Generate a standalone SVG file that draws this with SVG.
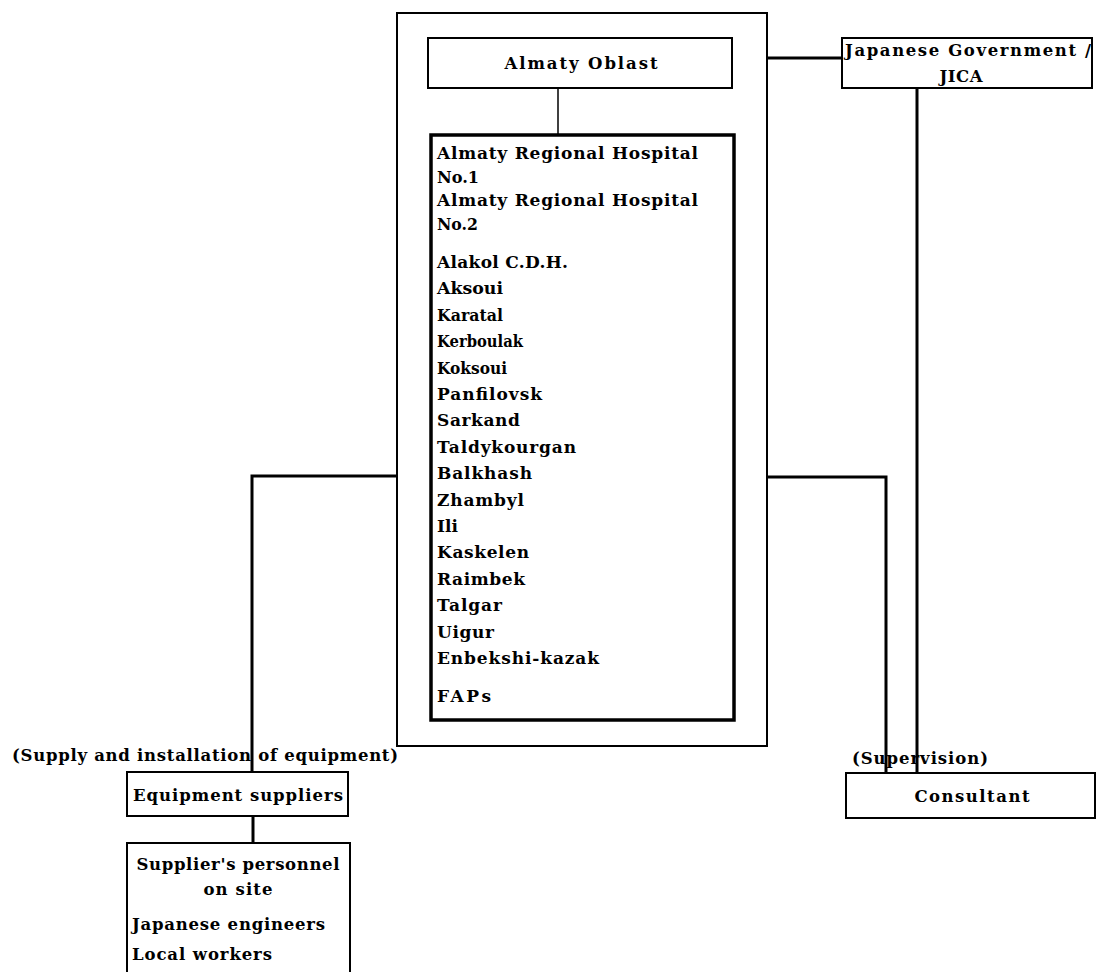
<svg xmlns="http://www.w3.org/2000/svg" width="1098" height="972" viewBox="0 0 1098 972">
<style>
  .box { fill: #ffffff; stroke: #000000; stroke-width: 2; }
  .thick { fill: #ffffff; stroke: #000000; stroke-width: 3.5; }
  .t { font-family: "DejaVu Serif", "Liberation Serif", serif; font-weight: bold; font-size: 16.5px; fill: #000000; }
  .l { font-family: "DejaVu Serif", "Liberation Serif", serif; font-weight: bold; font-size: 17px; fill: #000000; }
  .c { text-anchor: middle; }
  .conn { fill: none; stroke: #000000; stroke-width: 3; }
  .thin { fill: none; stroke: #000000; stroke-width: 1.5; }
</style>
<rect width="1098" height="972" fill="#ffffff"/>

<g id="almaty-oblast-group">
  <rect class="box" x="397" y="13" width="370" height="733"/>
</g>

<g id="almaty-oblast">
  <rect class="box" x="428" y="38" width="304" height="50"/>
  <text class="t c" x="581" y="69" textLength="153" lengthAdjust="spacing">Almaty Oblast</text>
</g>

<g id="hospitals">
  <rect class="thick" x="431" y="135" width="303" height="585"/>
  <text class="l" x="437" y="159" textLength="261" lengthAdjust="spacing">Almaty Regional Hospital</text>
  <text class="l" x="437" y="183" textLength="42" lengthAdjust="spacingAndGlyphs">No.1</text>
  <text class="l" x="437" y="206" textLength="261" lengthAdjust="spacing">Almaty Regional Hospital</text>
  <text class="l" x="437" y="230" textLength="41" lengthAdjust="spacingAndGlyphs">No.2</text>
  <text class="l" x="437" y="268" textLength="131" lengthAdjust="spacing">Alakol C.D.H.</text>
  <text class="l" x="437" y="294" textLength="66" lengthAdjust="spacingAndGlyphs">Aksoui</text>
  <text class="l" x="437" y="321" textLength="66" lengthAdjust="spacingAndGlyphs">Karatal</text>
  <text class="l" x="437" y="347" textLength="86" lengthAdjust="spacingAndGlyphs">Kerboulak</text>
  <text class="l" x="437" y="374" textLength="70" lengthAdjust="spacingAndGlyphs">Koksoui</text>
  <text class="l" x="437" y="400" textLength="105" lengthAdjust="spacing">Panfilovsk</text>
  <text class="l" x="437" y="426" textLength="83" lengthAdjust="spacing">Sarkand</text>
  <text class="l" x="437" y="453" textLength="139" lengthAdjust="spacing">Taldykourgan</text>
  <text class="l" x="437" y="479" textLength="95" lengthAdjust="spacing">Balkhash</text>
  <text class="l" x="437" y="506" textLength="87" lengthAdjust="spacing">Zhambyl</text>
  <text class="l" x="437" y="532" textLength="21" lengthAdjust="spacing">Ili</text>
  <text class="l" x="437" y="558" textLength="92" lengthAdjust="spacing">Kaskelen</text>
  <text class="l" x="437" y="585" textLength="88" lengthAdjust="spacing">Raimbek</text>
  <text class="l" x="437" y="611" textLength="65" lengthAdjust="spacing">Talgar</text>
  <text class="l" x="437" y="638" textLength="57" lengthAdjust="spacing">Uigur</text>
  <text class="l" x="437" y="664" textLength="162" lengthAdjust="spacing">Enbekshi-kazak</text>
  <text class="l" x="437" y="702" textLength="54" lengthAdjust="spacing">FAPs</text>
</g>

<g id="jica">
  <rect class="box" x="842" y="38" width="250" height="50"/>
  <text class="t" x="845" y="56" textLength="246" lengthAdjust="spacing">Japanese Government /</text>
  <text class="t c" x="961" y="82" textLength="43" lengthAdjust="spacing">JICA</text>
</g>

<g id="consultant">
  <rect class="box" x="846" y="773" width="249" height="45"/>
  <text class="t c" x="972" y="802" textLength="115" lengthAdjust="spacing">Consultant</text>
</g>

<g id="equipment-suppliers">
  <rect class="box" x="127" y="772" width="221" height="44"/>
  <text class="t c" x="238" y="801" textLength="210" lengthAdjust="spacing">Equipment suppliers</text>
</g>

<g id="suppliers-personnel">
  <rect class="box" x="127" y="843" width="223" height="140"/>
  <text class="t c" x="238" y="870" textLength="203" lengthAdjust="spacing">Supplier's personnel</text>
  <text class="t c" x="238" y="895" textLength="69" lengthAdjust="spacing">on site</text>
  <text class="t" x="132" y="930" textLength="193" lengthAdjust="spacing">Japanese engineers</text>
  <text class="t" x="132" y="960" textLength="140" lengthAdjust="spacing">Local workers</text>
</g>

<g id="labels">
  <text class="t" x="12" y="761" textLength="386" lengthAdjust="spacing">(Supply and installation of equipment)</text>
  <text class="t" x="852" y="764" textLength="136" lengthAdjust="spacing">(Supervision)</text>
</g>

<g id="connectors">
  <line class="thin" x1="558" y1="88" x2="558" y2="135"/>
  <line class="conn" x1="767" y1="58" x2="842" y2="58"/>
  <line class="conn" x1="917" y1="88" x2="917" y2="773"/>
  <polyline class="conn" points="767,477 886,477 886,773"/>
  <polyline class="conn" points="397,476 252,476 252,772"/>
  <line class="conn" x1="253" y1="816" x2="253" y2="843"/>
</g>
</svg>
